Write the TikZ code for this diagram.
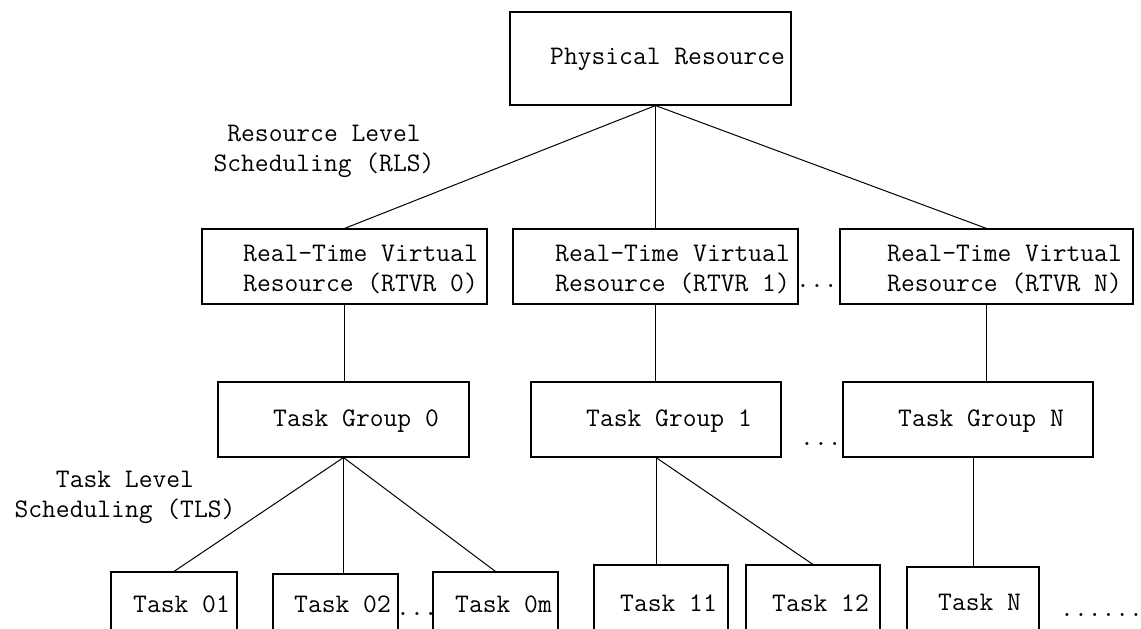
\documentclass[tikz,border=0pt]{standalone}
\usepackage{fontspec}
\usetikzlibrary{calc}
\begin{document}
\begin{tikzpicture}[x=1pt,y=-1pt,
  box/.style={draw, line width=1.1pt, inner sep=0pt},
  lbl/.style={font=\ttfamily\fontsize{26.8}{30}\selectfont, inner sep=0pt, anchor=west, align=left},
  clbl/.style={font=\ttfamily\fontsize{26.8}{30}\selectfont, inner sep=0pt, align=center},
  dots/.style={font=\ttfamily\fontsize{26.8}{30}\selectfont, inner sep=0pt, anchor=base west},
  conn/.style={line width=1pt}]
\useasboundingbox (0,0) rectangle (1141,629);
\clip (0,0) rectangle (1141,629);
% top
\node[box, minimum width=281pt, minimum height=93pt] (pr) at (650.5,58.5) {};
\node[lbl] (prt) at (550,59) {Physical Resource};
% RTVR
\node[box, minimum width=285pt, minimum height=75pt] (r0) at (344.5,266.5) {};
\node[box, minimum width=285pt, minimum height=75pt] (r1) at (655.5,266.5) {};
\node[box, minimum width=293pt, minimum height=75pt] (rN) at (986.5,266.5) {};
\node[lbl] (r0t) at (243,269.5) {Real-Time Virtual\\Resource (RTVR 0)};
\node[lbl] (r1t) at (555,269.5) {Real-Time Virtual\\Resource (RTVR 1)};
\node[lbl] (rNt) at (887,269.5) {Real-Time Virtual\\Resource (RTVR N)};
\node[dots] (d1) at (796,287) {...};
% task groups
\node[box, minimum width=251pt, minimum height=75pt] (g0) at (343.5,419.5) {};
\node[box, minimum width=250pt, minimum height=75pt] (g1) at (656,419.5) {};
\node[box, minimum width=250pt, minimum height=75pt] (gN) at (968,419.5) {};
\node[lbl] (g0t) at (273,421) {Task Group 0};
\node[lbl] (g1t) at (586,421) {Task Group 1};
\node[lbl] (gNt) at (898,421) {Task Group N};
\node[dots] (d2) at (800,445) {...};
% tasks
\node[box, minimum width=126pt, minimum height=80pt] (t01) at (174,612) {};
\node[box, minimum width=125pt, minimum height=80pt] (t02) at (335.5,614) {};
\node[box, minimum width=125pt, minimum height=80pt] (t0m) at (495.5,612) {};
\node[box, minimum width=134pt, minimum height=80pt] (t11) at (661,605) {};
\node[box, minimum width=134pt, minimum height=80pt] (t12) at (813,605) {};
\node[box, minimum width=132pt, minimum height=80pt] (tN) at (973,607) {};
\node[lbl] (t01t) at (133,604) {Task 01};
\node[lbl] (t02t) at (294,604) {Task 02};
\node[lbl] (t0mt) at (455,604) {Task 0m};
\node[lbl] (t11t) at (620,603) {Task 11};
\node[lbl] (t12t) at (772,603) {Task 12};
\node[lbl] (tNt) at (938,602) {Task N};
\node[dots] (d3) at (396,615) {...};
\node[dots] (d4) at (1060,616) {......};
% scheduling labels
\node[clbl] (rls) at (324,151) {Resource Level\\Scheduling (RLS)};
\node[clbl] (tls) at (125,497) {Task Level\\Scheduling (TLS)};
% connectors
\coordinate (prb) at (pr.south -| r1.north);
\draw[conn] (prb) -- (r0.north);
\draw[conn] (prb) -- (r1.north);
\draw[conn] (prb) -- (rN.north);
\draw[conn] (r0.south) -- (r0.south |- g0.north);
\draw[conn] (r1.south) -- (r1.south |- g1.north);
\draw[conn] (rN.south) -- (rN.south |- gN.north);
\draw[conn] (g0.south) -- (t01.north);
\draw[conn] (g0.south) -- (g0.south |- t02.north);
\draw[conn] (g0.south) -- (t0m.north);
\draw[conn] (g1.south) -- (g1.south |- t11.north);
\draw[conn] (g1.south) -- (t12.north);
\draw[conn] (tN.north |- gN.south) -- (tN.north);
\end{tikzpicture}
\end{document}
